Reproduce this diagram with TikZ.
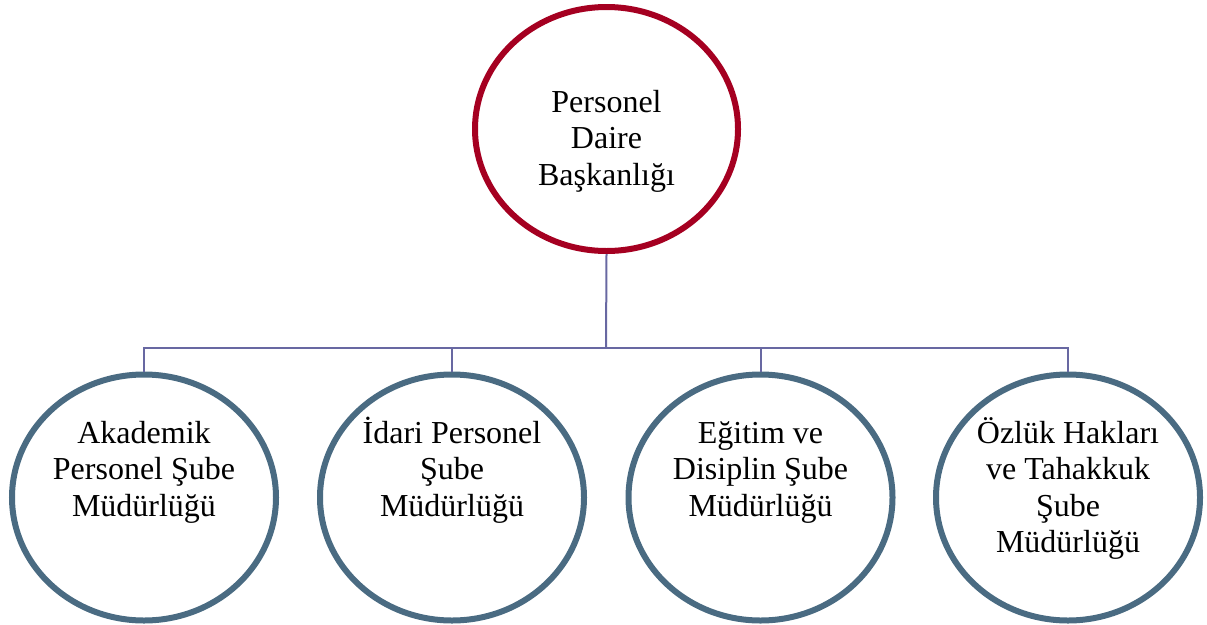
\documentclass[tikz,border=0pt]{standalone}
\usepackage{fontspec}
\setmainfont{Liberation Serif}
\usetikzlibrary{shapes.geometric}
\definecolor{topred}{HTML}{A50021}
\definecolor{subblue}{HTML}{4A6B82}
\definecolor{linkc}{HTML}{6868A2}
\begin{document}
\begin{tikzpicture}[x=1pt,y=-1pt,
  topell/.style={draw=topred,line width=6pt,ellipse,minimum width=263pt,minimum height=244pt,inner sep=0pt},
  subell/.style={draw=subblue,line width=6pt,ellipse,minimum width=264pt,minimum height=246pt,inner sep=0pt},
  lbl/.style={anchor=north,align=center,inner sep=0pt,font=\fontsize{32}{36.5}\selectfont},
  link/.style={draw=linkc,line width=2pt}]
\useasboundingbox (0,0) rectangle (1207,624);
\node[topell] (top) at (606.5,129) {};
\node[subell] (a) at (144,497.5) {};
\node[subell] (b) at (452,497.5) {};
\node[subell] (c) at (760.5,497.5) {};
\node[subell] (d) at (1068,497.5) {};
\node[lbl] (ttop) at (606.5,82) {\rule{0pt}{30pt}Personel\\Daire\\Başkanlığı};
\node[lbl] (ta) at (144,413) {\rule{0pt}{30pt}Akademik\\Personel Şube\\Müdürlüğü};
\node[lbl] (tb) at (452,413) {\rule{0pt}{30pt}İdari Personel\\Şube\\Müdürlüğü};
\node[lbl] (tc) at (760.5,413) {\rule{0pt}{30pt}Eğitim ve\\Disiplin Şube\\Müdürlüğü};
\node[lbl] (td) at (1068,413) {\rule{0pt}{30pt}Özlük Hakları\\ve Tahakkuk\\Şube\\Müdürlüğü};
\coordinate (j) at (606,347.5);
\draw[link] (top.south) -- (j);
\draw[link] (a.north) |- (j);
\draw[link] (b.north) |- (j);
\draw[link] (c.north) |- (j);
\draw[link] (d.north) |- (j);
\end{tikzpicture}
\end{document}
